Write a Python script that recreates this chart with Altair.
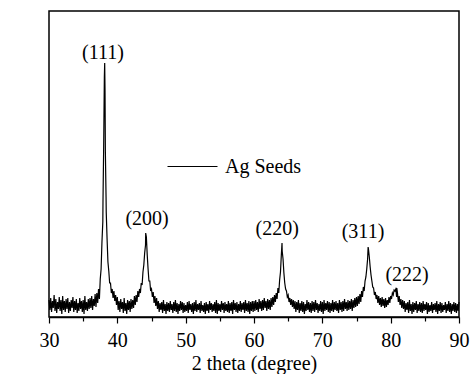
import altair as alt
import pandas as pd

# Scan. Points on the 0.25 deg grid (30.00 ... 90.00)
# and points between them (30.125 ... 89.875); the noisy baseline forms a band.
scan_start = 30.0
scan_step = 0.25
scan_counts = [
    17, 19, 16, 22, 18, 15, 20, 17, 21, 16, 18, 19, 15, 17, 20, 16, 18, 14, 19, 16, 17, 21, 15, 18,
    19, 21, 18, 23, 24, 28,
    38, 75, 170, 165, 78, 46, 34, 28, 26, 22,
    20, 16, 18, 15, 19, 14, 17, 16,
    18, 17, 21, 22,
    26, 28, 34, 45, 64, 80, 48, 36, 28, 25, 21, 19,
    16, 14, 15, 17, 13, 15, 14, 16, 13, 15,
    17, 14, 13, 16, 15, 14, 12, 15, 16, 13,
    14, 15, 17, 13, 14, 16, 12, 14, 15, 13,
    16, 14, 13, 15, 17, 14, 13, 16, 14, 15,
    13, 16, 14, 15, 17, 14, 15, 13, 16, 14,
    15, 17, 14, 16, 15, 16,
    16, 17, 15, 18, 16, 17, 19, 16, 18, 17, 19, 20,
    22, 24, 29, 37, 62, 58, 34, 26, 22, 19, 18, 17,
    16, 15, 17, 14, 16, 15, 13, 17, 15, 14,
    16, 15, 17, 14, 13, 16, 15, 17, 14, 16,
    15, 14, 17, 15, 16, 14, 17, 15, 16, 18,
    15, 17, 16, 18, 17, 19,
    20, 21, 23, 26, 30, 36, 48, 68, 50, 36, 29, 25, 22, 21, 19, 20,
    18, 19, 17, 20, 21, 24, 27, 28, 24, 21, 18, 17,
    16, 14, 15, 17, 13, 15, 14, 16, 13, 15,
    14, 16, 13, 15, 14, 12, 15, 13, 14, 16,
    13, 15, 14, 12, 15, 13, 16, 14, 13, 15,
    14, 13, 15,
]
scan_counts_mid = [
    7, 5, 9, 6, 4, 8, 6, 3, 7, 5, 8, 4, 6, 9, 5, 7, 4, 6, 8, 5, 3, 7, 6, 8,
    9, 7, 11, 10, 14, 18,
    48, 95, 247, 105, 55, 34, 24, 19, 16, 12,
    7, 5, 8, 4, 6, 3, 7, 5,
    8, 9, 12, 15,
    20, 24, 32, 52, 72, 62, 36, 26, 20, 14, 11, 8,
    5, 7, 4, 6, 3, 6, 5, 7, 4, 6,
    5, 3, 6, 7, 4, 5, 6, 4, 7, 5,
    3, 6, 5, 7, 4, 6, 5, 3, 6, 4,
    7, 5, 6, 4, 3, 6, 5, 7, 4, 6,
    5, 4, 6, 3, 7, 5, 4, 6, 5, 7,
    4, 6, 5, 3, 6, 5,
    6, 7, 5, 8, 6, 7, 9, 6, 8, 7, 10, 12,
    15, 18, 24, 45, 66, 44, 28, 20, 15, 12, 10, 8,
    5, 7, 4, 6, 5, 3, 6, 7, 5, 4,
    6, 5, 7, 4, 6, 5, 3, 6, 7, 5,
    4, 6, 5, 7, 6, 4, 7, 5, 6, 8,
    6, 7, 8, 6, 9, 10,
    11, 13, 15, 20, 26, 40, 58, 60, 42, 30, 22, 18, 14, 12,
    10, 11, 9, 10, 12, 14, 18, 22, 26, 20, 15, 12, 9, 8,
    5, 7, 4, 6, 3, 5, 7, 4, 6, 5,
    4, 6, 7, 3, 5, 6, 4, 7, 5, 3,
    6, 4, 5, 7, 4, 6, 5, 3, 6, 5,
    4, 6,
]

# Extra points at the sharp peak tops
peak_theta = [37.9, 38.1, 38.15, 38.2, 38.35, 44.15, 64.1, 76.7, 80.9]
peak_counts = [115, 240, 254, 225, 120, 84, 74, 70, 29]

# Peak labels
label_text = ["(111)", "(200)", "(220)", "(311)", "(222)"]
label_theta = [37.9, 44.35, 63.4, 75.95, 82.4]
label_counts = [264, 98, 88, 85, 42]

series_name = "Ag Seeds"

grid_theta = [round(scan_start + scan_step * i, 3) for i in range(len(scan_counts))]
mid_theta = [round(scan_start + scan_step * (i + 0.5), 3) for i in range(len(scan_counts_mid))]
df = pd.DataFrame({
    "theta": grid_theta + mid_theta + peak_theta,
    "counts": scan_counts + scan_counts_mid + peak_counts,
})
df = df.sort_values("theta").reset_index(drop=True)
df["series"] = series_name

labels_df = pd.DataFrame({"text": label_text, "theta": label_theta, "counts": label_counts})

FONT = "Liberation Serif, Times New Roman, serif"
FS = 20

xscale = alt.Scale(domain=[30, 90], nice=False, zero=False)
yscale = alt.Scale(domain=[0, 306], nice=False)

line = alt.Chart(df).mark_line(strokeWidth=1.2, interpolate="linear").encode(
    x=alt.X("theta:Q", scale=xscale,
            axis=alt.Axis(values=[30, 40, 50, 60, 70, 80, 90], tickSize=6, tickColor="black",
                          tickWidth=1.2, domainColor="black", domainWidth=1.5,
                          labelFont=FONT, labelFontSize=FS, labelColor="black",
                          labelPadding=7, labelFlush=False, grid=False,
                          title="2 theta (degree)", titleFont=FONT, titleFontSize=FS,
                          titleFontWeight="normal", titleColor="black", titlePadding=3)),
    y=alt.Y("counts:Q", scale=yscale,
            axis=alt.Axis(labels=False, ticks=False, domain=False, grid=False,
                          title="Intensity (a.u)", titleFont=FONT, titleFontSize=FS,
                          titleFontWeight="normal", titleColor="black", titlePadding=24)),
    color=alt.Color("series:N", scale=alt.Scale(range=["black"]),
                    legend=alt.Legend(title=None, orient="none", legendX=118, legendY=130,
                                      symbolType="stroke", symbolSize=2500,
                                      symbolStrokeWidth=1, labelFont=FONT, labelFontSize=FS,
                                      labelColor="black", labelOffset=7)),
)

minor = alt.Chart(df).mark_line(opacity=0).encode(
    x=alt.X("theta:Q", scale=xscale,
            axis=alt.Axis(orient="bottom", values=[35, 45, 55, 65, 75, 85], tickSize=4,
                          tickColor="black", tickWidth=1.2, labels=False, domain=False,
                          grid=False, title=None)),
    y=alt.Y("counts:Q", scale=yscale, axis=None),
)

text = alt.Chart(labels_df).mark_text(font=FONT, fontSize=FS, color="black",
                                      align="center", baseline="middle").encode(
    x=alt.X("theta:Q", scale=xscale, axis=None),
    y=alt.Y("counts:Q", scale=yscale, axis=None),
    text="text:N",
)

chart = alt.layer(line, minor, text).resolve_axis(x="independent").properties(
    width=410, height=306,
    autosize=alt.AutoSizeParams(type="none"),
    padding={"left": 49, "top": 11, "right": 12, "bottom": 57},
    background="white",
).configure_view(stroke="black", strokeWidth=1.5)

chart.save("out.html", embed_options={"renderer": "svg", "actions": False})
